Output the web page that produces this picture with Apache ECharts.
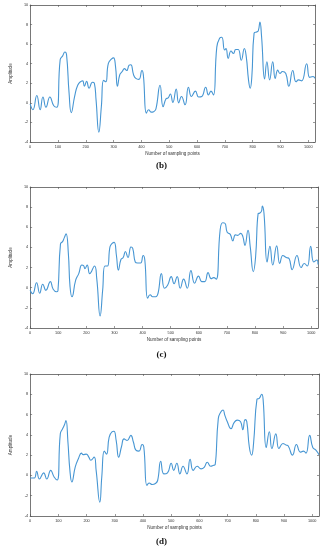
<!DOCTYPE html>
<html>
<head>
<meta charset="utf-8">
<script src="https://cdn.jsdelivr.net/npm/echarts@6/dist/echarts.min.js"></script>
<style>
html,body{margin:0;padding:0;background:#fff;}
#c{width:323px;height:550px;}
</style>
</head>
<body>
<div id="c"></div>
<script>
// ---- data (sample index, amplitude) ----
const xTicks = [0,100,200,300,400,500,600,700,800,900,1000];
const yTicks = [-4,-2,0,2,4,6,8,10];
const panelLabels = ['(b)','(c)','(d)'];

const bSamples = [0,10,24,36,46,57,71,85,96,108,117,125,131,140,148,160,171,183,189,195,203,212,224,231,237,247,256,264,272,281,293,300,307,314,322,331,339,347,356,362,372,380,391,402,407,418,426,435,444,452,467,478,488,496,504,513,525,534,544,557,569,580,594,606,617,631,641,650,659,671,681,689,699,704,712,722,731,739,748,759,770,777,785,791,797,805,814,820,826,832,843,851,861,872,881,890,898,907,919,930,944,956,965,976,994,1005,1017,1024];
const bAmplitude = [-0.1,-0.7,0.75,-0.7,0.6,-0.45,0.6,-0.3,-0.45,4.4,4.8,5.2,4.9,1.0,-1.0,0.65,1.8,2.2,2.25,1.7,2.2,1.5,2.1,2.0,0.3,-3.0,-0.4,2.3,2.15,4.0,4.5,4.6,3.7,1.7,2.85,3.2,3.5,3.3,3.85,3.9,2.85,2.5,2.4,3.3,2.85,-1.05,-0.7,-0.95,-0.9,-0.65,1.8,-0.4,0.4,0.5,0.9,0.05,1.4,0.0,0.65,-0.2,1.6,0.65,1.2,0.6,0.65,1.6,0.8,1.2,0.8,5.7,6.6,6.7,5.4,5.55,4.55,5.3,5.05,5.45,5.45,4.35,5.55,4.7,2.35,1.5,2.7,7.1,7.25,7.35,8.25,6.75,2.45,4.2,2.35,4.2,2.5,3.35,3.0,3.2,3.0,1.7,3.3,2.15,2.35,2.25,4.0,2.6,2.7,2.5];

const cSamples = [0,9,23,34,45,56,72,82,94,99,108,116,122,128,136,142,149,162,173,184,190,195,203,212,229,237,249,258,266,275,284,292,299,307,314,323,331,339,348,359,365,374,382,393,402,408,418,427,436,447,455,467,478,489,502,512,523,534,546,559,572,585,599,611,621,633,644,653,662,676,685,693,701,712,721,730,738,749,757,764,775,783,794,802,811,816,823,826,832,843,853,863,877,888,899,911,921,932,949,964,975,986,998,1009,1020,1024];
const cAmplitude = [-0.25,-0.6,0.5,-0.55,0.35,-0.25,0.6,-0.15,-0.4,-0.3,4.35,4.6,5.0,5.35,3.4,0.1,-0.9,0.75,1.4,2.25,2.2,1.9,2.25,1.4,2.15,0.9,-2.8,-0.25,2.15,2.15,4.05,4.4,4.5,3.2,1.75,2.8,3.0,3.6,3.0,4.05,3.9,2.55,2.45,2.45,3.2,2.75,-1.05,-0.7,-0.9,-0.9,-0.55,1.4,-0.05,0.25,1.1,0.4,1.1,-0.05,0.85,-0.05,1.7,0.45,1.15,0.6,0.6,1.5,0.9,1.0,0.85,5.75,6.45,6.4,5.5,5.3,4.65,5.25,5.2,5.4,5.05,4.2,5.7,4.05,1.6,3.05,7.35,7.4,7.6,8.1,7.35,2.55,4.1,2.25,4.15,2.4,3.2,3.0,2.9,1.8,3.2,2.0,2.4,2.15,4.1,2.55,2.75,2.3];

const dSamples = [0,15,23,33,48,59,73,85,96,107,115,121,127,134,141,148,160,171,182,188,199,208,215,227,234,247,254,263,271,280,290,297,305,314,324,333,344,357,366,375,386,397,403,414,422,433,444,452,463,474,487,500,509,520,531,542,556,567,578,592,606,617,628,640,651,656,667,676,684,690,699,712,723,734,746,754,762,768,777,785,792,804,812,821,826,837,848,857,871,882,896,907,915,930,944,958,969,978,991,1002,1013,1024];
const dAmplitude = [-0.25,-0.25,0.4,-0.35,0.25,-0.35,0.5,-0.15,-0.45,4.1,4.6,4.95,5.4,3.3,0.5,-0.65,0.85,1.65,2.2,2.05,2.1,1.8,1.5,1.8,0.5,-2.65,-0.15,2.4,2.1,3.75,4.3,4.35,3.45,1.8,2.85,3.6,3.45,3.95,3.3,2.5,2.4,3.05,2.8,-1.0,-0.75,-0.9,-0.8,-0.5,1.4,0.15,0.25,1.2,0.5,1.2,0.15,0.9,0.15,1.6,0.5,0.9,0.65,0.8,1.3,0.9,1.0,1.05,5.6,6.25,6.45,5.95,5.3,4.6,5.2,5.45,5.3,4.5,5.5,5.3,2.8,2.0,3.15,7.5,7.6,8.0,7.45,2.75,4.3,2.65,4.1,2.65,3.15,3.0,2.9,2.0,3.05,2.3,2.4,2.2,3.95,2.75,2.5,2.05];

const xName = 'Number of sampling points';
const yName = 'Amplitude';

// ---- layout ----
const panels = [
  {xs:bSamples, ys:bAmplitude, left:19, right:8, top:5, height:137, yGap:7, labelY:166},
  {xs:cSamples, ys:cAmplitude, left:14, right:5, top:187, height:141, yGap:7, labelY:355},
  {xs:dSamples, ys:dAmplitude, left:14, right:4, top:374, height:142, yGap:7, labelY:542}
];

const axisColor = '#555';
const labelColor = '#333';
const grid = [], xAxis = [], yAxis = [], series = [], graphic = [];

panels.forEach((p, i) => {
  grid.push({left:p.left, right:p.right, top:p.top, height:p.height, containLabel:false});
  const common = {
    gridIndex:i, type:'value', min:0, max:1024, interval:100,
    axisLine:{show:true, onZero:false, lineStyle:{color:axisColor, width:0.8}},
    axisTick:{show:true, inside:true, length:2, lineStyle:{color:axisColor, width:0.6}},
    splitLine:{show:false}
  };
  xAxis.push(Object.assign({}, common, {
    position:'bottom',
    name:xName, nameLocation:'middle', nameGap:9.5,
    nameTextStyle:{fontSize:4.6, color:labelColor, fontFamily:'Liberation Sans, Arial'},
    axisLabel:{show:true, fontSize:3.8, margin:2.5, color:labelColor, showMaxLabel:false,
      fontFamily:'Liberation Sans, Arial',
      formatter: v => (xTicks.indexOf(v) >= 0 ? String(v) : '')}
  }));
  xAxis.push(Object.assign({}, common, {position:'top', axisLabel:{show:false}}));
  const ycommon = {
    gridIndex:i, type:'value', min:-4, max:10, interval:2,
    axisLine:{show:true, onZero:false, lineStyle:{color:axisColor, width:0.8}},
    axisTick:{show:true, inside:true, length:2, lineStyle:{color:axisColor, width:0.6}},
    splitLine:{show:false}
  };
  yAxis.push(Object.assign({}, ycommon, {
    position:'left',
    name:yName, nameLocation:'middle', nameGap:p.yGap, nameRotate:90,
    nameTextStyle:{fontSize:4.6, color:labelColor, fontFamily:'Liberation Sans, Arial'},
    axisLabel:{show:true, fontSize:3.8, margin:2, color:labelColor,
      fontFamily:'Liberation Sans, Arial',
      formatter: v => (yTicks.indexOf(v) >= 0 ? String(v) : '')}
  }));
  yAxis.push(Object.assign({}, ycommon, {position:'right', axisLabel:{show:false}}));
  series.push({
    type:'line', xAxisIndex:i*2, yAxisIndex:i*2,
    data:p.xs.map((x, k) => [x, p.ys[k]]),
    showSymbol:false, smooth:0.5, clip:true,
    lineStyle:{color:'#4796d3', width:1.1}
  });
  graphic.push({
    type:'text', left:'center', top:p.labelY - 5,
    style:{text:panelLabels[i], font:'bold 9px "Liberation Serif", "Times New Roman", serif', fill:'#111'}
  });
});

const chart = echarts.init(document.getElementById('c'), null, {renderer:'canvas'});
chart.setOption({animation:false, grid, xAxis, yAxis, series, graphic});
</script>
</body>
</html>
